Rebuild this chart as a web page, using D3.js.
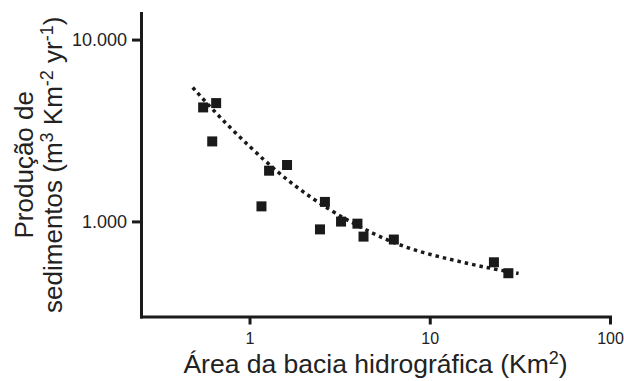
<!DOCTYPE html>
<html>
<head>
<meta charset="utf-8">
<script src="https://cdn.jsdelivr.net/npm/d3@7"></script>
<style>
  html, body { margin: 0; padding: 0; background: #fff; }
  svg { display: block; }
  text { font-family: "Liberation Sans", Arial, Helvetica, sans-serif; }
</style>
</head>
<body>
<svg id="chart" width="624" height="381"></svg>
<script>
// ---- data ----
const areaKm2 = [0.553, 0.653, 0.621, 1.284, 1.615, 1.165, 2.62, 2.46, 3.22, 3.97, 4.29, 6.32, 22.7, 27.3];
const sedimentYield = [4235, 4474, 2754, 1901, 2043, 1210, 1280, 904, 998, 972, 825, 795, 596, 519];

const trendArea = [0.484, 0.670, 1.017, 1.447, 1.966, 2.94, 4.90, 7.82, 13.0, 20.8, 31.1];
const trendYield = [5450, 3811, 2533, 1846, 1458, 1113, 846, 700, 617, 556, 517];

const xTicks = [1, 10, 100];
const xTickLabels = ["1", "10", "100"];
const yTicks = [1000, 10000];
const yTickLabels = ["1.000", "10.000"];

// ---- drawing ----
const svg = d3.select("#chart");
const ink = "#1a1a1a";
const textInk = "#222";

const x = d3.scaleLog().domain([0.25, 100]).range([141, 610]);
const y = d3.scaleLog().domain([300, 14000]).range([316.5, 13]);

// X axis
const xAxis = d3.axisBottom(x)
  .tickValues(xTicks)
  .tickFormat((d, i) => xTickLabels[i])
  .tickSizeOuter(0)
  .tickSizeInner(8)
  .tickPadding(8);
const gx = svg.append("g").attr("transform", `translate(0,${y.range()[0]})`).call(xAxis);
gx.select(".domain").attr("stroke", ink).attr("stroke-width", 3).attr("stroke-linecap", "square");
gx.selectAll(".tick line").attr("stroke", ink).attr("stroke-width", 3);
gx.selectAll(".tick text").attr("font-size", 16).attr("fill", textInk)
  .attr("font-family", "Liberation Sans, Arial, sans-serif");

// Y axis
const yAxis = d3.axisLeft(y)
  .tickValues(yTicks)
  .tickFormat((d, i) => yTickLabels[i])
  .tickSizeOuter(0)
  .tickSizeInner(9)
  .tickPadding(5);
const gy = svg.append("g").attr("transform", `translate(${x.range()[0]},0)`).call(yAxis);
gy.select(".domain").attr("stroke", ink).attr("stroke-width", 3).attr("stroke-linecap", "square");
gy.selectAll(".tick line").attr("stroke", ink).attr("stroke-width", 3);
gy.selectAll(".tick text").attr("font-size", 18).attr("fill", textInk)
  .attr("font-family", "Liberation Sans, Arial, sans-serif");

// Trend line (dotted)
const trend = trendArea.map((a, i) => [a, trendYield[i]]);
svg.append("path")
  .datum(trend)
  .attr("fill", "none")
  .attr("stroke", ink)
  .attr("stroke-width", 3.5)
  .attr("stroke-dasharray", "3.5,4")
  .attr("d", d3.line().x(d => x(d[0])).y(d => y(d[1])).curve(d3.curveBasis));

// Points (squares)
const sz = 10;
svg.append("g").selectAll("rect")
  .data(areaKm2.map((a, i) => [a, sedimentYield[i]]))
  .join("rect")
  .attr("x", d => x(d[0]) - sz / 2)
  .attr("y", d => y(d[1]) - sz / 2)
  .attr("width", sz)
  .attr("height", sz)
  .attr("fill", ink);

// X title
const xt = svg.append("text")
  .attr("x", (x.range()[0] + x.range()[1]) / 2)
  .attr("y", 373)
  .attr("text-anchor", "middle")
  .attr("font-size", 26.5)
  .attr("fill", textInk);
xt.append("tspan").text("Área da bacia hidrográfica (Km");
xt.append("tspan").attr("dy", -9).attr("font-size", 18).text("2");
xt.append("tspan").attr("dy", 9).text(")");

// Y title (two lines, rotated)
const yc = (y.range()[0] + y.range()[1]) / 2;
svg.append("text")
  .attr("transform", `translate(33,${yc}) rotate(-90)`)
  .attr("text-anchor", "middle")
  .attr("font-size", 26)
  .attr("fill", textInk)
  .text("Produção de");
const yt2 = svg.append("text")
  .attr("transform", `translate(62,${yc}) rotate(-90)`)
  .attr("text-anchor", "middle")
  .attr("font-size", 26)
  .attr("fill", textInk);
yt2.append("tspan").text("sedimentos (m");
yt2.append("tspan").attr("dy", -9).attr("font-size", 18).text("3");
yt2.append("tspan").attr("dy", 9).text(" Km");
yt2.append("tspan").attr("dy", -9).attr("font-size", 18).text("-2");
yt2.append("tspan").attr("dy", 9).text(" yr");
yt2.append("tspan").attr("dy", -9).attr("font-size", 18).text("-1");
yt2.append("tspan").attr("dy", 9).text(")");
</script>
</body>
</html>
